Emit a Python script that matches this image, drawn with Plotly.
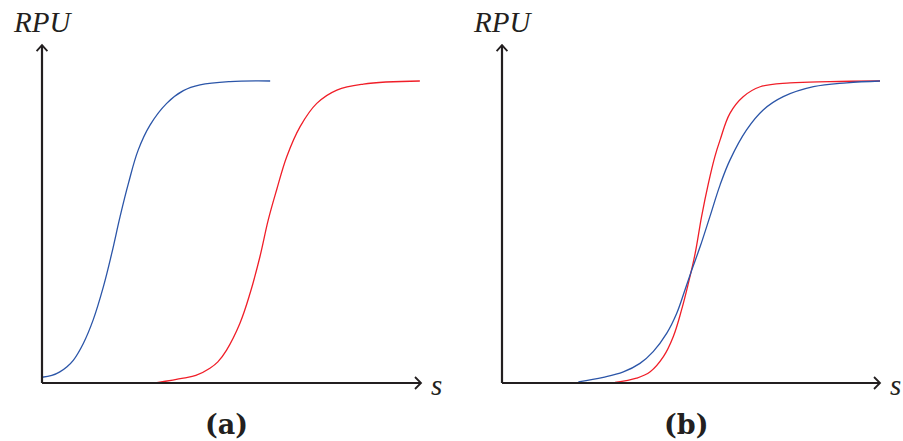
import plotly.graph_objects as go

# Panel (a): two sigmoid responses (s in arbitrary units, RPU normalised to plateau = 1)
a_blue_s = [0.00, 0.26, 0.47, 0.66, 0.83, 1.09, 1.35, 1.62, 1.84, 2.06, 2.28, 2.54, 2.85, 3.29, 3.73, 4.17, 4.96, 6.02]
a_blue_rpu = [0.019, 0.025, 0.037, 0.054, 0.076, 0.131, 0.209, 0.319, 0.429, 0.551, 0.661, 0.772, 0.854, 0.926, 0.968, 0.987, 0.998, 1.0]
a_red_s = [3.03, 3.73, 4.06, 4.43, 4.64, 4.87, 5.22, 5.49, 5.75, 5.97, 6.19, 6.46, 6.81, 7.25, 7.78, 8.48, 9.97]
a_red_rpu = [0.001, 0.016, 0.025, 0.049, 0.070, 0.109, 0.197, 0.297, 0.418, 0.540, 0.639, 0.750, 0.849, 0.926, 0.970, 0.990, 1.0]

# Panel (b)
b_blue_s = [2.02, 2.68, 3.21, 3.65, 4.00, 4.36, 4.62, 4.84, 5.02, 5.24, 5.50, 5.77, 6.03, 6.47, 6.91, 7.44, 8.24, 9.12, 10.0]
b_blue_rpu = [0.004, 0.019, 0.037, 0.065, 0.104, 0.165, 0.230, 0.308, 0.374, 0.451, 0.551, 0.656, 0.738, 0.838, 0.904, 0.948, 0.981, 0.994, 1.0]
b_red_s = [2.99, 3.56, 3.92, 4.27, 4.53, 4.75, 4.93, 5.11, 5.28, 5.46, 5.63, 5.77, 6.03, 6.38, 6.83, 7.62, 8.68, 10.0]
b_red_rpu = [0.002, 0.016, 0.037, 0.087, 0.153, 0.242, 0.330, 0.429, 0.551, 0.661, 0.749, 0.805, 0.893, 0.948, 0.981, 0.994, 0.998, 1.0]

panel_labels = ["(a)", "(b)"]
axis_y_label = "RPU"
axis_x_label = "s"

BLUE = "#2b55a8"
RED = "#f01e28"
AX = "#231f20"

fig = go.Figure()

def curve(x, y, color, xa, ya):
    fig.add_trace(go.Scatter(x=x, y=y, mode="lines", line=dict(color=color, width=1.3, shape="spline", smoothing=1.1),
                             xaxis=xa, yaxis=ya, hoverinfo="skip", showlegend=False))

curve(a_blue_s, a_blue_rpu, BLUE, "x", "y")
curve(a_red_s, a_red_rpu, RED, "x", "y")
curve(b_red_s, b_red_rpu, RED, "x2", "y2")
curve(b_blue_s, b_blue_rpu, BLUE, "x2", "y2")

XMAX = 10.0
YMAX = 1.119
hx = 6 / 37.9   # arrowhead length in s units
hy = 6 / 302    # arrowhead half-width in RPU units

shapes = []
for xr, yr in [("x", "y"), ("x2", "y2")]:
    shapes.append(dict(type="line", xref=xr, yref=yr, x0=0, y0=0, x1=XMAX, y1=0, line=dict(color=AX, width=2.2)))
    shapes.append(dict(type="line", xref=xr, yref=yr, x0=0, y0=0, x1=0, y1=YMAX, line=dict(color=AX, width=2.2)))
    shapes.append(dict(type="path", xref=xr, yref=yr,
                       path=f"M {XMAX-hx},{-hy} L {XMAX},0 L {XMAX-hx},{hy}", line=dict(color=AX, width=1.8)))
    shapes.append(dict(type="path", xref=xr, yref=yr,
                       path=f"M {-hx*0.9},{YMAX-hx*37.9/302} L 0,{YMAX} L {hx*0.9},{YMAX-hx*37.9/302}",
                       line=dict(color=AX, width=1.8)))

annotations = []
for i, (xr, yr) in enumerate([("x", "y"), ("x2", "y2")]):
    annotations.append(dict(text=axis_y_label, xref=xr, yref=yr, x=0, y=1.194, showarrow=False,
                            font=dict(family="Liberation Serif", size=29, color=AX, style="italic"),
                            xanchor="center", yanchor="middle"))
    annotations.append(dict(text=axis_x_label, xref=xr, yref=yr, x=10.42, y=-0.005, showarrow=False,
                            font=dict(family="Liberation Serif", size=29, color=AX, style="italic"),
                            xanchor="center", yanchor="middle"))
    annotations.append(dict(text=f"<b>{panel_labels[i]}</b>", xref=xr, yref=yr, x=4.88, y=-0.139, showarrow=False,
                            font=dict(family="DejaVu Serif", size=27, color=AX),
                            xanchor="center", yanchor="middle"))

ax_common = dict(showgrid=False, zeroline=False, showticklabels=False, ticks="", showline=False, fixedrange=True)
fig.update_layout(
    width=903, height=441, margin=dict(l=0, r=0, t=0, b=0),
    paper_bgcolor="white", plot_bgcolor="white",
    xaxis=dict(domain=[0, 0.5], range=[-42 / 37.9, (451.5 - 42) / 37.9], anchor="y", **ax_common),
    yaxis=dict(domain=[0, 1], range=[-(441 - 383) / 302, 383 / 302], anchor="x", **ax_common),
    xaxis2=dict(domain=[0.5, 1], range=[-(502 - 451.5) / 37.8, (903 - 502) / 37.8], anchor="y2", **ax_common),
    yaxis2=dict(domain=[0, 1], range=[-(441 - 383) / 302, 383 / 302], anchor="x2", **ax_common),
    shapes=shapes, annotations=annotations, showlegend=False,
)

fig.write_html("out.html")
